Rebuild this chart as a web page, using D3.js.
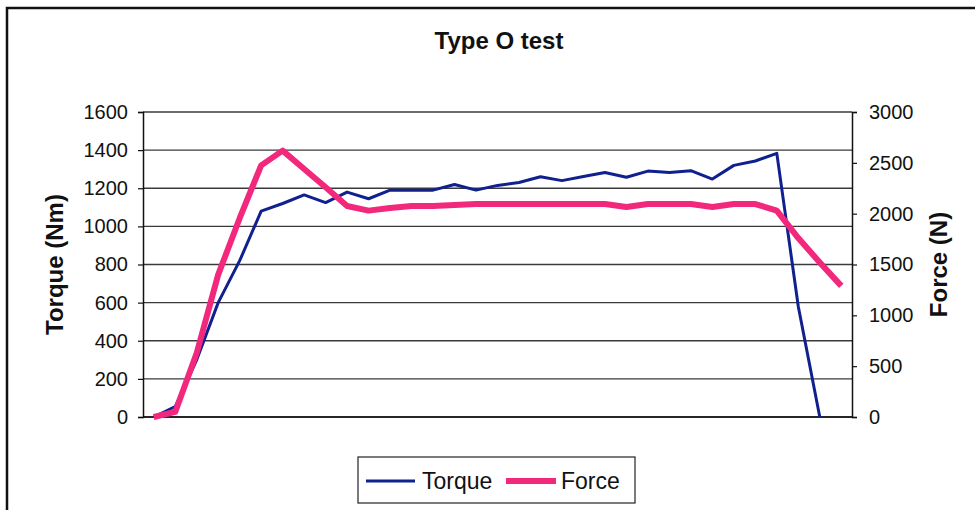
<!DOCTYPE html>
<html>
<head>
<meta charset="utf-8">
<script src="https://cdn.jsdelivr.net/npm/d3@7"></script>
<style>
  body { margin: 0; background: #fff; }
  svg { display: block; font-family: "Liberation Sans", Arial, sans-serif; }
</style>
</head>
<body>
<div id="chart"></div>
<script>
// Readings taken off the scanned chart (33 samples, no category labels shown)
const samples = d3.range(1, 34);
const torque = [0, 55, 300, 600, 820, 1080, 1120, 1165, 1125, 1180, 1145, 1190, 1190, 1190, 1220, 1190,
  1215, 1230, 1260, 1240, 1262, 1283, 1258, 1290, 1282, 1292, 1248, 1320, 1343, 1383, 580, 0, null];
const force = [0, 50, 630, 1400, 1955, 2475, 2620, 2440, 2260, 2075, 2030, 2055, 2075, 2075, 2085, 2095,
  2095, 2095, 2095, 2095, 2095, 2095, 2065, 2095, 2095, 2095, 2065, 2095, 2095, 2030, 1760, 1520, 1290];
const torqueTicks = [0, 200, 400, 600, 800, 1000, 1200, 1400, 1600];
const forceTicks = [0, 500, 1000, 1500, 2000, 2500, 3000];

const W = 975, H = 510;
const plot = { left: 143, right: 852, top: 112, bottom: 417 };

const svg = d3.select("#chart").append("svg")
  .attr("width", W)
  .attr("height", H);

// outer chart frame (runs off the right/bottom of the scan)
svg.append("rect")
  .attr("x", 7).attr("y", 8)
  .attr("width", 1000).attr("height", 600)
  .attr("fill", "#fff")
  .attr("stroke", "#111")
  .attr("stroke-width", 2.5);

const x = d3.scalePoint()
  .domain(samples)
  .range([plot.left, plot.right])
  .padding(0.5);

const yL = d3.scaleLinear().domain([0, 1600]).range([plot.bottom, plot.top]);
const yR = d3.scaleLinear().domain([0, 3000]).range([plot.bottom, plot.top]);

// gridlines
svg.append("g")
  .selectAll("line")
  .data(torqueTicks)
  .join("line")
  .attr("x1", plot.left).attr("x2", plot.right)
  .attr("y1", d => yL(d)).attr("y2", d => yL(d))
  .attr("stroke", "#3a3a3a")
  .attr("stroke-width", 1.3);

// left axis
const axL = svg.append("g")
  .attr("transform", `translate(${plot.left},0)`)
  .call(d3.axisLeft(yL).tickValues(torqueTicks).tickFormat(d3.format("d"))
    .tickSize(5).tickPadding(10));

// right axis
const axR = svg.append("g")
  .attr("transform", `translate(${plot.right},0)`)
  .call(d3.axisRight(yR).tickValues(forceTicks).tickFormat(d3.format("d"))
    .tickSize(5).tickPadding(12));

[axL, axR].forEach(g => {
  g.select(".domain").attr("stroke", "#111").attr("stroke-width", 1.5);
  g.selectAll(".tick line").attr("stroke", "#111").attr("stroke-width", 1.2);
  g.selectAll(".tick text")
    .attr("fill", "#111")
    .attr("font-size", 20)
    .attr("font-family", "Liberation Sans, Arial, sans-serif");
});

// bottom category axis line
svg.append("line")
  .attr("x1", plot.left).attr("x2", plot.right)
  .attr("y1", plot.bottom).attr("y2", plot.bottom)
  .attr("stroke", "#111")
  .attr("stroke-width", 1.5);

// series
const torqueLine = d3.line()
  .defined(d => d[1] != null)
  .x(d => x(d[0]))
  .y(d => yL(d[1]));

const forceLine = d3.line()
  .x(d => x(d[0]))
  .y(d => yR(d[1]));

svg.append("path")
  .datum(samples.map((s, i) => [s, torque[i]]))
  .attr("fill", "none")
  .attr("stroke", "#10208f")
  .attr("stroke-width", 3)
  .attr("stroke-linejoin", "round")
  .attr("d", torqueLine);

svg.append("path")
  .datum(samples.map((s, i) => [s, force[i]]))
  .attr("fill", "none")
  .attr("stroke", "#f2287c")
  .attr("stroke-width", 6)
  .attr("stroke-linejoin", "round")
  .attr("d", forceLine);

// titles
svg.append("text")
  .attr("x", 499).attr("y", 49)
  .attr("text-anchor", "middle")
  .attr("font-size", 24)
  .attr("font-weight", "bold")
  .attr("fill", "#111")
  .text("Type O test");

const midY = (plot.top + plot.bottom) / 2;

svg.append("text")
  .attr("transform", `translate(63,${midY}) rotate(-90)`)
  .attr("text-anchor", "middle")
  .attr("font-size", 24)
  .attr("font-weight", "bold")
  .attr("fill", "#111")
  .text("Torque (Nm)");

svg.append("text")
  .attr("transform", `translate(947,${midY}) rotate(-90)`)
  .attr("text-anchor", "middle")
  .attr("font-size", 24)
  .attr("font-weight", "bold")
  .attr("fill", "#111")
  .text("Force (N)");

// legend
const legend = svg.append("g");
legend.append("rect")
  .attr("x", 358).attr("y", 457)
  .attr("width", 277).attr("height", 46)
  .attr("fill", "#fff")
  .attr("stroke", "#222")
  .attr("stroke-width", 1.2);

const items = [
  { name: "Torque", color: "#10208f", width: 3, x0: 366, x1: 415, tx: 422 },
  { name: "Force", color: "#f2287c", width: 6, x0: 506, x1: 556, tx: 561 }
];
items.forEach(it => {
  legend.append("line")
    .attr("x1", it.x0).attr("x2", it.x1)
    .attr("y1", 481).attr("y2", 481)
    .attr("stroke", it.color)
    .attr("stroke-width", it.width);
  legend.append("text")
    .attr("x", it.tx).attr("y", 489)
    .attr("font-size", 23)
    .attr("fill", "#111")
    .text(it.name);
});
</script>
</body>
</html>
